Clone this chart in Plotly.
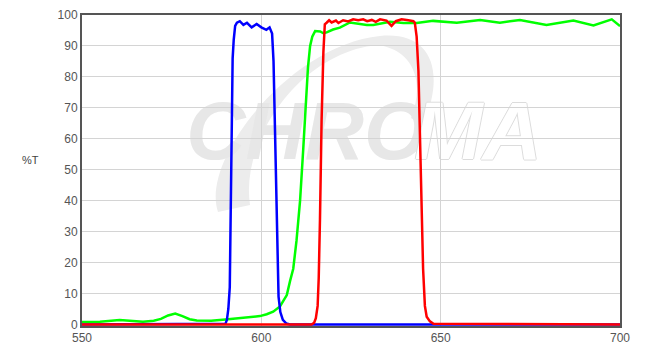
import plotly.graph_objects as go

# ---------------- data ----------------
blue_wl = [550, 590.0, 590.4, 590.8, 591.2, 591.45, 591.7, 592.0, 592.3, 592.7, 593.2, 594.0,
           595.0, 596.0, 597.3, 598.7, 600.0, 601.4, 602.3, 603.0, 603.4, 603.8, 604.2, 604.6,
           604.8, 605.3, 606.0, 607.0, 608.0, 700]
blue_t = [0, 0.2, 1.5, 5, 12, 34, 70, 86, 92, 96.5, 97.5, 98.0,
          96.8, 97.5, 96.0, 97.1, 96.0, 95.2, 96.0, 94.0, 85, 65, 42, 18,
          9, 4, 1.5, 0.3, 0, 0]

red_wl = [550, 614.0, 614.7, 615.2, 615.7, 616.0, 616.35, 616.6, 616.8, 617.3, 617.7, 618.2,
          618.9, 619.6, 620.8, 621.5, 622.8, 624.2, 625.6, 627.0, 628.4, 629.5, 630.8, 631.9,
          633.1, 634.9, 636.3, 637.5, 639.1, 641.0, 642.4, 642.8, 643.3, 643.8, 644.3, 644.7,
          645.1, 645.6, 646.1, 647.0, 648.0, 700]
red_t = [0, 0, 0.5, 2, 6, 15, 34, 56, 66, 88, 97, 97.5,
         98.3, 97.6, 98.2, 97.4, 98.3, 97.9, 98.6, 98.3, 98.6, 98.0, 98.4, 97.8,
         98.6, 98.2, 96.5, 98.0, 98.6, 98.3, 98.0, 97.5, 93, 82, 60, 36,
         18, 6, 2.5, 1, 0.2, 0]

green_wl = [550, 555, 560.5, 564, 567, 570, 572, 574, 576, 578, 580, 582, 586, 590, 595,
            599.6, 601.5, 603.3, 605.2, 607.1, 608.0, 608.9, 609.8, 610.8, 611.7, 612.6,
            613.0, 613.6, 614.2, 615.0, 616.4, 617.3, 618.2, 620.0, 621.9, 624.7, 626.6,
            629.4, 631.2, 632.2, 635.9, 639.6, 643.3, 647.9, 651.7, 654.5, 661.0, 666.5,
            672.1, 679.5, 687.0, 692.6, 697.7, 699.5, 700]
green_t = [0.8, 0.9, 1.4, 1.1, 0.9, 1.2, 1.8, 2.9, 3.5, 2.7, 1.7, 1.3, 1.2, 1.6, 2.2,
           2.7, 3.3, 4.1, 5.8, 9.5, 14, 18, 27, 40, 57, 77,
           83, 90, 93, 94.8, 94.7, 94.1, 94.4, 95.3, 95.9, 97.6, 97.3,
           96.8, 96.8, 97.0, 97.8, 97.4, 97.4, 98.1, 97.8, 97.5, 98.4, 97.5,
           98.4, 96.8, 98.2, 96.6, 98.6, 96.8, 96.4]

x_ticks = [550, 600, 650, 700]
y_ticks = [0, 10, 20, 30, 40, 50, 60, 70, 80, 90, 100]
y_label = "%T"
logo_parts = ["CHRO", "MA"]

# ---------------- layout helpers ----------------
W, H = 652, 354
L, R, T, B = 82, 32, 15, 28
PW, PH = W - L - R, H - T - B


def px(xp, yp):
    return (xp - L) / PW, (H - B - yp) / PH


def path_from(cmds):
    out = []
    for c in cmds:
        if isinstance(c, str):
            out.append(c)
        else:
            a, b = px(*c)
            out.append(f"{a:.4f},{b:.4f}")
    return " ".join(out)


FONT = "Liberation Sans, Arial, sans-serif"
WM = "#e7e7e7"

fig = go.Figure()
fig.add_trace(go.Scatter(x=green_wl, y=green_t, mode="lines",
                         line=dict(color="#00ff00", width=2.5), hoverinfo="skip"))
fig.add_trace(go.Scatter(x=blue_wl, y=blue_t, mode="lines",
                         line=dict(color="#0000ff", width=2.5), hoverinfo="skip"))
fig.add_trace(go.Scatter(x=red_wl, y=red_t, mode="lines",
                         line=dict(color="#ff0000", width=2.5), hoverinfo="skip"))

# watermark swoosh
swoosh = path_from(["M", (218, 212), "C", (200, 160), (290, 45), (380, 36),
                    "C", (432, 31), (446, 72), (423, 125), "L", (411, 118),
                    "C", (426, 80), (412, 50), (378, 45),
                    "C", (300, 52), (240, 140), (250, 205), "Z"])
fig.add_shape(type="path", path=swoosh, xref="paper", yref="paper",
              fillcolor="#ececec", line=dict(width=0), layer="below")

# watermark text
x0, y0 = px(200, 84)
x1, y1 = px(414, 160)
fig.add_shape(type="rect", xref="paper", yref="paper", x0=x0, x1=x1, y0=y1, y1=y0,
              line=dict(width=0), fillcolor="rgba(0,0,0,0)", layer="below",
              label=dict(text=logo_parts[0], textposition="middle center", padding=0,
                         font=dict(family=FONT, size=82, color=WM,
                                   weight="bold", style="italic")))
x0, y0 = px(408, 84)
x1, y1 = px(548, 160)
fig.add_shape(type="rect", xref="paper", yref="paper", x0=x0, x1=x1, y0=y1, y1=y0,
              line=dict(width=0), fillcolor="rgba(0,0,0,0)", layer="below",
              label=dict(text=logo_parts[1], textposition="middle center", padding=0,
                         font=dict(family=FONT, size=82, color="white",
                                   weight="bold", style="italic",
                                   shadow="1px 0 #dcdcdc, -1px 0 #dcdcdc, 0 1px #dcdcdc, 0 -1px #dcdcdc")))

ax, ay = px(30, 160)
fig.add_annotation(x=ax, y=ay, xref="paper", yref="paper", text=y_label,
                   xanchor="center", yanchor="middle",
                   showarrow=False, font=dict(family=FONT, size=11, color="#444"))

fig.update_layout(
    width=W, height=H,
    margin=dict(l=L, r=R, t=T, b=B, pad=0, autoexpand=False),
    paper_bgcolor="white", plot_bgcolor="white",
    showlegend=False,
    font=dict(family=FONT, size=12, color="#555"),
)
fig.update_xaxes(range=[550, 700], tickvals=x_ticks, ticktext=[str(v) for v in x_ticks],
                 showgrid=True, gridcolor="#d4d4d4", gridwidth=1, automargin=False,
                 showline=True, mirror=True, linecolor="#555", linewidth=2,
                 zeroline=False, ticks="", layer="below traces",
                 tickfont=dict(family=FONT, size=12, color="#555"))
fig.update_yaxes(range=[-0.5, 100], tickvals=y_ticks, ticktext=[str(v) for v in y_ticks],
                 showgrid=True, gridcolor="#d4d4d4", gridwidth=1, automargin=False,
                 showline=True, mirror=True, linecolor="#555", linewidth=2,
                 zeroline=False, ticks="", layer="below traces",
                 tickfont=dict(family=FONT, size=12, color="#555"))

fig.write_html("out.html")
